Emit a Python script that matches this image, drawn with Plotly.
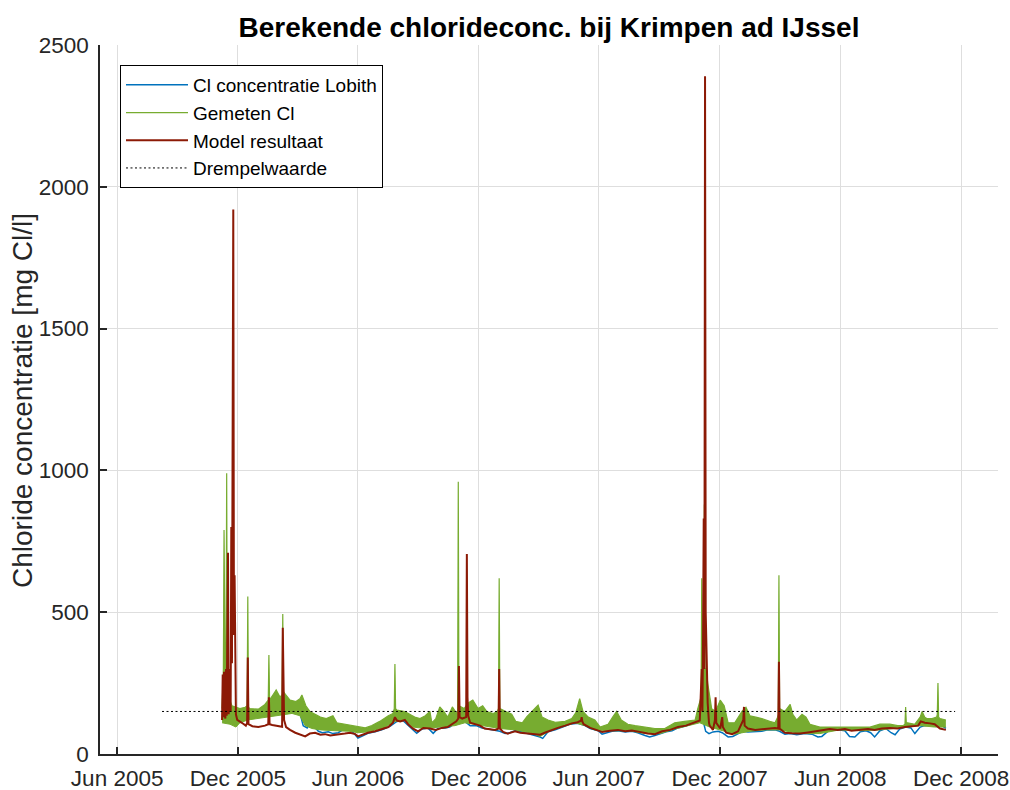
import pandas as pd
import plotly.graph_objects as go

# ---- data (day offsets from 2005-11-01, concentrations in mg Cl/l) ----
base_date = "2005-11-01"

t_lobith = [6,15,26,36,48,61,67,76,86,97,106,117,124,129,135,139,144,152,158,167,174,182,189,197,205,212,220,227,238,248,261,271,280,288,295,301,309,318,326,333,344,351,359,367,374,382,391,400,409,418,427,435,442,450,458,465,473,480,488,492,500,511,521,533,545,556,564,576,582,589,597,606,617,627,636,647,654,662,670,679,688,697,707,718,727,735,739,744,750,758,764,773,780,788,795,803,814,824,833,844,851,859,867,877,889,900,909,915,924,933,942,950,957,965,973,982,989,995,1003,1012,1020,1026,1033,1042,1050,1056,1064,1071,1079,1088,1097,1103]
lobith = [130,135,140,148,150,155,162,155,158,160,157,150,145,100,92,115,100,80,75,78,72,75,85,90,75,56,65,73,78,85,98,115,118,100,85,73,88,92,73,90,92,95,108,120,115,100,100,92,88,85,80,72,75,82,80,75,70,65,60,55,78,85,95,105,108,100,90,82,70,75,80,82,78,80,75,65,60,65,72,78,82,92,98,105,112,118,80,72,78,80,75,60,62,72,80,78,78,80,85,85,80,70,72,68,72,70,60,62,80,88,85,82,62,60,78,82,75,60,82,90,75,68,88,95,92,72,95,100,102,98,100,90]

t_gemeten_hoog = [6,8,9,10,11,12,13,14,16,21,27,33,41,44,45,46,48,61,71,76,77,78,85,88,94,97,98,99,102,109,118,124,127,130,133,139,147,155,164,174,180,192,203,212,223,233,245,258,265,267,268,269,271,283,291,298,306,314,321,324,330,336,342,348,355,361,363,364,365,373,379,386,394,401,407,417,423,425,426,427,436,445,451,461,468,476,485,491,500,511,526,536,542,548,553,561,571,579,591,598,604,611,621,632,647,662,677,692,707,723,727,730,732,733,734,736,737,738,740,742,748,754,761,767,773,783,794,800,806,815,824,836,844,848,849,850,851,859,867,871,877,885,891,897,912,927,950,973,988,1003,1018,1030,1038,1041,1042,1043,1045,1056,1064,1067,1071,1074,1082,1089,1090,1091,1092,1094,1103]
gemeten_hoog = [160,300,790,200,180,300,990,250,200,170,165,160,165,170,555,165,160,158,175,190,349,190,215,226,200,210,494,220,210,190,185,195,208,190,170,150,140,130,125,135,110,105,100,98,92,100,115,135,143,160,317,160,155,150,140,130,125,135,150,110,125,166,150,130,166,145,150,960,170,160,180,190,160,170,150,143,150,160,620,160,150,140,115,110,132,150,172,130,120,112,115,125,145,195,150,130,120,95,105,130,150,120,105,100,95,90,90,110,115,120,160,180,200,620,250,400,880,300,300,250,160,150,190,170,110,110,150,165,135,130,125,115,110,130,140,630,160,150,175,140,120,140,130,105,95,95,95,95,95,105,105,100,100,105,166,110,110,105,130,150,130,125,125,130,140,250,130,125,120]

t_gemeten_laag = [6,18,27,33,45,61,76,94,112,124,132,142,155,177,200,212,227,238,253,268,283,295,314,336,359,374,389,412,427,450,473,488,503,526,541,556,571,594,624,647,670,692,715,730,745,761,783,806,829,851,867,889,912,942,973,1003,1033,1064,1086,1103]
gemeten_laag = [110,105,95,110,120,125,132,135,143,135,100,90,85,82,80,75,78,85,95,115,120,95,90,95,100,110,105,95,90,85,75,62,82,100,110,100,85,82,82,72,72,88,102,110,95,85,70,80,85,85,78,72,72,85,82,85,92,100,95,95]

t_model = [6,7,8,9,10,11,12,13,15,16,17,18,19,20,21,23,24,25,26,27,29,33,36,42,44,45,46,52,61,71,76,77,78,82,91,97,98,99,100,103,109,117,124,132,139,147,155,162,170,177,185,192,200,208,212,218,227,238,248,258,265,268,271,276,283,288,295,303,311,321,330,339,348,355,361,364,365,366,370,376,377,378,379,382,389,397,404,412,420,425,426,427,432,439,450,458,470,480,488,495,506,515,526,536,545,550,551,552,554,564,573,582,594,606,617,627,639,651,662,673,685,697,709,721,730,733,734,735,736,737,738,739,740,741,742,744,745,750,753,754,755,761,764,765,770,779,788,796,797,798,803,814,824,833,844,849,850,851,859,870,882,894,904,915,927,939,950,960,973,985,995,1006,1018,1030,1041,1052,1061,1065,1071,1079,1086,1094,1103]
model = [120,280,130,290,140,125,300,135,710,140,200,300,150,800,320,1920,420,630,200,140,120,115,110,100,110,340,105,98,95,100,105,200,105,102,98,96,445,300,120,95,85,75,70,62,72,75,68,70,65,68,70,72,75,70,62,68,75,80,88,95,110,130,118,115,120,105,90,80,92,90,85,92,95,105,115,125,310,130,125,130,705,200,135,110,105,100,90,88,85,90,300,90,78,72,80,75,72,70,68,75,85,92,100,108,112,118,130,115,105,92,85,78,82,85,80,83,78,72,70,80,85,95,100,110,118,300,150,420,830,300,2390,500,380,390,180,110,100,85,120,200,110,90,130,95,75,70,80,120,166,100,90,85,88,90,92,90,325,90,75,73,72,76,80,85,88,85,88,82,85,88,85,90,92,90,95,98,100,115,110,108,105,90,85]

drempelwaarde = 150
drempel_periode = ["2005-08-08", "2008-11-22"]

reeks_namen = ["Cl concentratie Lobith", "Gemeten Cl", "Model resultaat", "Drempelwaarde"]
titel = "Berekende chlorideconc. bij Krimpen ad IJssel"
y_titel = "Chloride concentratie [mg Cl/l]"


def to_dates(days):
    return pd.Timestamp(base_date) + pd.to_timedelta(days, unit="D")


FONT = "Liberation Sans, Arial, Helvetica, sans-serif"
TXT = "#262626"
W, H = 1010, 790
AX_L, AX_R, AX_T, AX_B = 100, 998, 45, 754   # plot area in window pixels
ML, MR, MT, MB = AX_L, W - AX_R, AX_T, H - AX_B
plot_w = AX_R - AX_L
plot_h = AX_B - AX_T

fig = go.Figure()
fig.add_trace(go.Scatter(x=to_dates(t_lobith), y=lobith, mode="lines", name=reeks_namen[0],
                         line=dict(color="#0072BD", width=1.5)))
fig.add_trace(go.Scatter(x=to_dates(t_gemeten_hoog), y=gemeten_hoog, mode="lines", name=reeks_namen[1],
                         line=dict(color="#77AC30", width=1.2)))
fig.add_trace(go.Scatter(x=to_dates(t_gemeten_laag), y=gemeten_laag, mode="lines", showlegend=False,
                         line=dict(color="#77AC30", width=1), fill="tonexty", fillcolor="#77AC30"))
fig.add_trace(go.Scatter(x=to_dates(t_model), y=model, mode="lines", name=reeks_namen[2],
                         line=dict(color="#8C1A06", width=2)))
fig.add_trace(go.Scatter(x=pd.to_datetime(drempel_periode), y=[drempelwaarde] * 2, mode="lines",
                         name=reeks_namen[3], line=dict(color="#000000", width=1, dash="2px,2.5px")))

fig.update_layout(
    width=W, height=H,
    margin=dict(l=ML, r=MR, t=MT, b=MB, autoexpand=False),
    paper_bgcolor="white", plot_bgcolor="white",
    font=dict(family=FONT, color=TXT, size=20),
    title=dict(text="<b>" + titel + "</b>", xref="container", yref="container",
               x=549 / W, xanchor="center", y=1 - 27 / H, yanchor="middle",
               font=dict(size=28, color="#000000")),
    legend=dict(x=(120 - AX_L) / plot_w, y=(AX_B - 65) / plot_h, xanchor="left", yanchor="top",
                bgcolor="white", bordercolor="#000000", borderwidth=1,
                font=dict(size=19, color="#000000"), itemwidth=62, tracegroupgap=0,
                traceorder="normal"),
    showlegend=True,
    annotations=[dict(text=y_titel, textangle=-90, xref="paper", yref="paper",
                      x=(22 - AX_L) / plot_w, y=(AX_B - 401) / plot_h, xanchor="center",
                      yanchor="middle", showarrow=False, font=dict(size=28, color=TXT))],
)
fig.update_xaxes(type="date", range=["2005-05-06", "2009-01-26"], tick0="2005-06-01", dtick="M6",
                 tickformat="%b %Y", showgrid=True, gridcolor="#dedede", gridwidth=1,
                 showline=True, linecolor=TXT, linewidth=1.5, ticks="inside", ticklen=7,
                 tickcolor=TXT, tickwidth=1.5, zeroline=False, automargin=False,
                 ticklabelstandoff=3, tickfont=dict(size=22.5, color=TXT))
fig.update_yaxes(range=[0, 2500], dtick=500, showgrid=True, gridcolor="#dedede", gridwidth=1,
                 showline=True, linecolor=TXT, linewidth=1.5, ticks="inside", ticklen=7,
                 tickcolor=TXT, tickwidth=1.5, zeroline=False, automargin=False,
                 ticklabelstandoff=5, tickfont=dict(size=22.5, color=TXT))

fig.write_html("out.html", config={"displayModeBar": False},
               post_script="document.body.style.margin='0';document.body.style.overflow='hidden';")
